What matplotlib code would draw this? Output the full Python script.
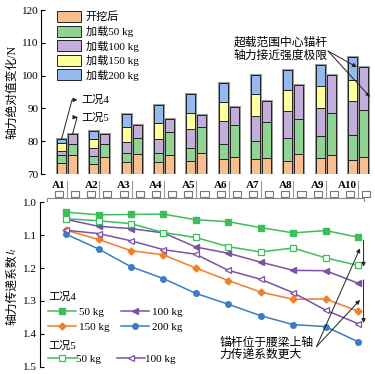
import matplotlib.pyplot as plt
import matplotlib.patches as mpatches
import numpy as np

plt.rcParams['font.family'] = ['Liberation Serif', 'Noto Sans CJK SC']
plt.rcParams['mathtext.fontset'] = 'stix'
plt.rcParams['font.size'] = 8

# ----------------------
# data
# ----------------------
anchors = ["A1", "A2", "A3", "A4", "A5", "A6", "A7", "A8", "A9", "A10"]
stage_labels = ["开挖后", "加载50 kg", "加载100 kg", "加载150 kg", "加载200 kg"]

# cumulative axial force (N), case 4 (5 stages) and case 5 (3 stages)
c4_after   = [73.5, 73.0, 73.8, 73.8, 74.1, 74.7, 74.5, 74.1, 74.9, 74.2]
c4_50      = [75.7, 75.5, 76.3, 76.4, 78.0, 79.0, 80.2, 80.9, 81.5, 81.9]
c4_100     = [77.0, 77.9, 79.7, 80.8, 83.8, 86.1, 87.7, 89.1, 90.2, 92.4]
c4_150     = [79.4, 80.8, 84.4, 85.6, 88.7, 92.0, 94.4, 95.7, 96.8, 98.6]
c4_200     = [80.6, 83.1, 88.2, 91.0, 94.4, 97.6, 100.1, 101.6, 103.1, 105.6]
c5_after   = [75.7, 75.1, 76.0, 75.8, 76.3, 75.2, 74.8, 76.1, 75.7, 75.1]
c5_50      = [79.2, 79.2, 80.9, 82.8, 84.2, 85.0, 86.0, 86.8, 88.5, 89.4]
c5_100     = [82.1, 82.1, 84.9, 86.7, 88.0, 90.4, 92.2, 97.0, 100.3, 102.6]

# transfer coefficient l_t
lt4_50  = [1.030, 1.038, 1.037, 1.036, 1.053, 1.059, 1.077, 1.093, 1.086, 1.106]
lt4_100 = [1.052, 1.073, 1.080, 1.093, 1.136, 1.155, 1.182, 1.207, 1.208, 1.246]
lt4_150 = [1.085, 1.113, 1.147, 1.160, 1.200, 1.238, 1.273, 1.295, 1.294, 1.331]
lt4_200 = [1.097, 1.142, 1.196, 1.232, 1.277, 1.310, 1.345, 1.372, 1.378, 1.424]
lt5_50  = [1.050, 1.056, 1.065, 1.092, 1.107, 1.135, 1.151, 1.139, 1.169, 1.192]
lt5_100 = [1.085, 1.095, 1.117, 1.144, 1.158, 1.207, 1.234, 1.275, 1.328, 1.369]

bar_colors = ['#F8BE8E', '#90D393', '#C3AEDB', '#FFFF9E', '#93B9EE']
c_green, c_purple, c_orange, c_blue = '#3DBE5B', '#7B52A6', '#F07F26', '#3A7DC2'

W, H = 375, 374
fig = plt.figure(figsize=(W / 100, H / 100), dpi=100)

def px_axes(x0, y0, x1, y1):
    # axes from pixel box (top-left origin)
    return fig.add_axes([x0 / W, 1 - y1 / H, (x1 - x0) / W, (y1 - y0) / H])

x = np.arange(1, len(anchors) + 1)
xlim = (0.196, 10.43)
off, bw = 0.17, 0.28

# ----------------------
# upper: stacked bars
# ----------------------
ax1 = px_axes(41, 10, 372, 174)
ax1.set_xlim(*xlim)
ax1.set_ylim(70, 120)

def stacked(xpos, levels):
    base = 70
    top = levels[-1]
    ax1.bar(xpos, top - base, bw, bottom=base, color='none',
            edgecolor='#9a9a9a', linewidth=2.2, zorder=1)
    prev = base
    for k, lv in enumerate(levels):
        ax1.bar(xpos, lv - prev, bw, bottom=prev, color=bar_colors[k],
                edgecolor='#222222', linewidth=0.7, zorder=2)
        prev = lv

c4 = [c4_after, c4_50, c4_100, c4_150, c4_200]
c5 = [c5_after, c5_50, c5_100]
for i in range(len(anchors)):
    stacked(x[i] - off, [s[i] for s in c4])
    stacked(x[i] + off, [s[i] for s in c5])

for s in ['top', 'right', 'bottom']:
    ax1.spines[s].set_visible(False)
ax1.set_xticks([])
ax1.set_yticks(np.arange(70, 121, 10))
ax1.tick_params(axis='y', direction='in', length=3, labelsize=8, pad=2)
ax1.set_ylabel("轴力绝对值变化/N", fontsize=8.5, labelpad=2)

handles = [mpatches.Patch(facecolor=c, edgecolor='#222222', linewidth=0.7) for c in bar_colors]
ax1.legend(handles, stage_labels, loc='upper left', bbox_to_anchor=(57 / W, 1 - 11 / H),
           bbox_transform=fig.transFigure, frameon=False, fontsize=8,
           handlelength=2.2, handleheight=1.15, labelspacing=0.3, handletextpad=0.4,
           borderpad=0, borderaxespad=0)

ax1.annotate("工况4", xy=(x[0] - off, c4_200[0]), xytext=(1.45, 92.6),
             va='center', ha='left', fontsize=8,
             arrowprops=dict(arrowstyle='<|-', color='#222222', lw=0.7, mutation_scale=6,
                             connectionstyle='angle,angleA=0,angleB=75', shrinkA=1, shrinkB=0))
ax1.annotate("工况5", xy=(x[0] + off, c5_100[0]), xytext=(1.45, 87.3),
             va='center', ha='left', fontsize=8,
             arrowprops=dict(arrowstyle='<|-', color='#222222', lw=0.7, mutation_scale=6,
                             connectionstyle='angle,angleA=0,angleB=75', shrinkA=1, shrinkB=0))

ax1.text(9.05, 108.0, "超载范围中心锚杆\n轴力接近强度极限", ha='right', va='center',
         fontsize=8.5, linespacing=1.05)
for tgt in [(9.96, 102.6), (10.37, 93.5)]:
    ax1.annotate("", xy=tgt, xytext=(9.07, 107.5),
                 arrowprops=dict(arrowstyle='-|>', color='#222222', lw=0.7,
                                 mutation_scale=6, shrinkA=0, shrinkB=0))

# ----------------------
# middle: anchor schematic
# ----------------------
axm = px_axes(41, 176, 372, 207)
axm.set_xlim(*xlim)
axm.set_ylim(207, 176)
axm.axis('off')
axm.add_patch(mpatches.Rectangle((0.39, 198), 9.78, 7, facecolor='white',
                                 edgecolor='#8a8a8a', linewidth=0.8))
sq = 0.25
for i, name in enumerate(anchors):
    xc = x[i]
    axm.plot([xc, xc], [181, 197.5], color='#999999', lw=0.8)
    for dx in (-0.25, 0.25):
        axm.add_patch(mpatches.Rectangle((xc + dx - sq / 2, 190.5), sq, 6.2, facecolor='white',
                                         edgecolor='#777777', linewidth=0.8))
    axm.text(xc - 0.04, 185.5, name, ha='right', va='center', fontsize=8, fontweight='bold')

# ----------------------
# lower: transfer coefficient
# ----------------------
ax2 = px_axes(40, 202.3, 372, 366.7)
ax2.set_xlim(*xlim)
ax2.set_ylim(1.5, 1.0)
ms = 4
l1, = ax2.plot(x, lt4_50, color=c_green, marker='s', ms=ms, lw=1.1)
l2, = ax2.plot(x, lt4_100, color=c_purple, marker='<', ms=ms, lw=1.1)
l3, = ax2.plot(x, lt4_150, color=c_orange, marker='D', ms=3.5, lw=1.1)
l4, = ax2.plot(x, lt4_200, color=c_blue, marker='o', ms=ms, lw=1.1)
l5, = ax2.plot(x, lt5_50, color=c_green, marker='s', ms=ms, lw=1.1, mfc='white', mew=0.9)
l6, = ax2.plot(x, lt5_100, color=c_purple, marker='<', ms=ms, lw=1.1, mfc='white', mew=0.9)

for s in ['top', 'right', 'bottom']:
    ax2.spines[s].set_visible(False)
ax2.set_xticks([])
ax2.set_yticks(np.arange(1.0, 1.51, 0.1))
ax2.set_yticklabels([f"{v:.1f}" for v in np.arange(1.0, 1.51, 0.1)])
ax2.tick_params(axis='y', direction='in', length=3, labelsize=8, pad=2)
fig.text(12 / W, 1 - 290 / H, "轴力传递系数", rotation=90, ha='center', va='center', fontsize=8.5)
fig.text(12 / W, 1 - 251.5 / H, "$l_t$", rotation=90, ha='center', va='center', fontsize=8.5)

leg1 = ax2.legend([l1, l3, l2, l4], ["50 kg", "150 kg", "100 kg", "200 kg"], ncol=2,
                  title="工况4", title_fontsize=8, alignment='left',
                  loc='upper left', bbox_to_anchor=(48 / W, 1 - 292 / H), bbox_transform=fig.transFigure,
                  frameon=False, fontsize=8, handlelength=2.5, handletextpad=0.3,
                  columnspacing=1.0, labelspacing=0.45, borderpad=0, borderaxespad=0)
ax2.add_artist(leg1)
ax2.legend([l5, l6], ["50 kg", "100 kg"], ncol=2,
           title="工况5", title_fontsize=8, alignment='left',
           loc='upper left', bbox_to_anchor=(48 / W, 1 - 341 / H), bbox_transform=fig.transFigure,
           frameon=False, fontsize=8, handlelength=2.5, handletextpad=0.0,
           columnspacing=1.5, labelspacing=0.3, borderpad=0, borderaxespad=0)

ax2.text(5.73, 1.445, "锚杆位于腰梁上轴\n力传递系数更大", ha='left', va='center',
         fontsize=8.5, linespacing=1.05)
for tgt in [(10.06, 1.140), (10.06, 1.297)]:
    ax2.annotate("", xy=tgt, xytext=(8.72, 1.439),
                 arrowprops=dict(arrowstyle='-|>', color='#222222', lw=0.7,
                                 mutation_scale=6, shrinkA=0, shrinkB=0))
for y0, y1 in [(1.115, 1.196), (1.236, 1.367)]:
    ax2.annotate("", xy=(10.17, y1), xytext=(10.17, y0),
                 arrowprops=dict(arrowstyle='-|>', color='#222222', lw=0.7,
                                 mutation_scale=6, shrinkA=0, shrinkB=0),
                 annotation_clip=False)

fig.savefig("out.png", dpi=100)
